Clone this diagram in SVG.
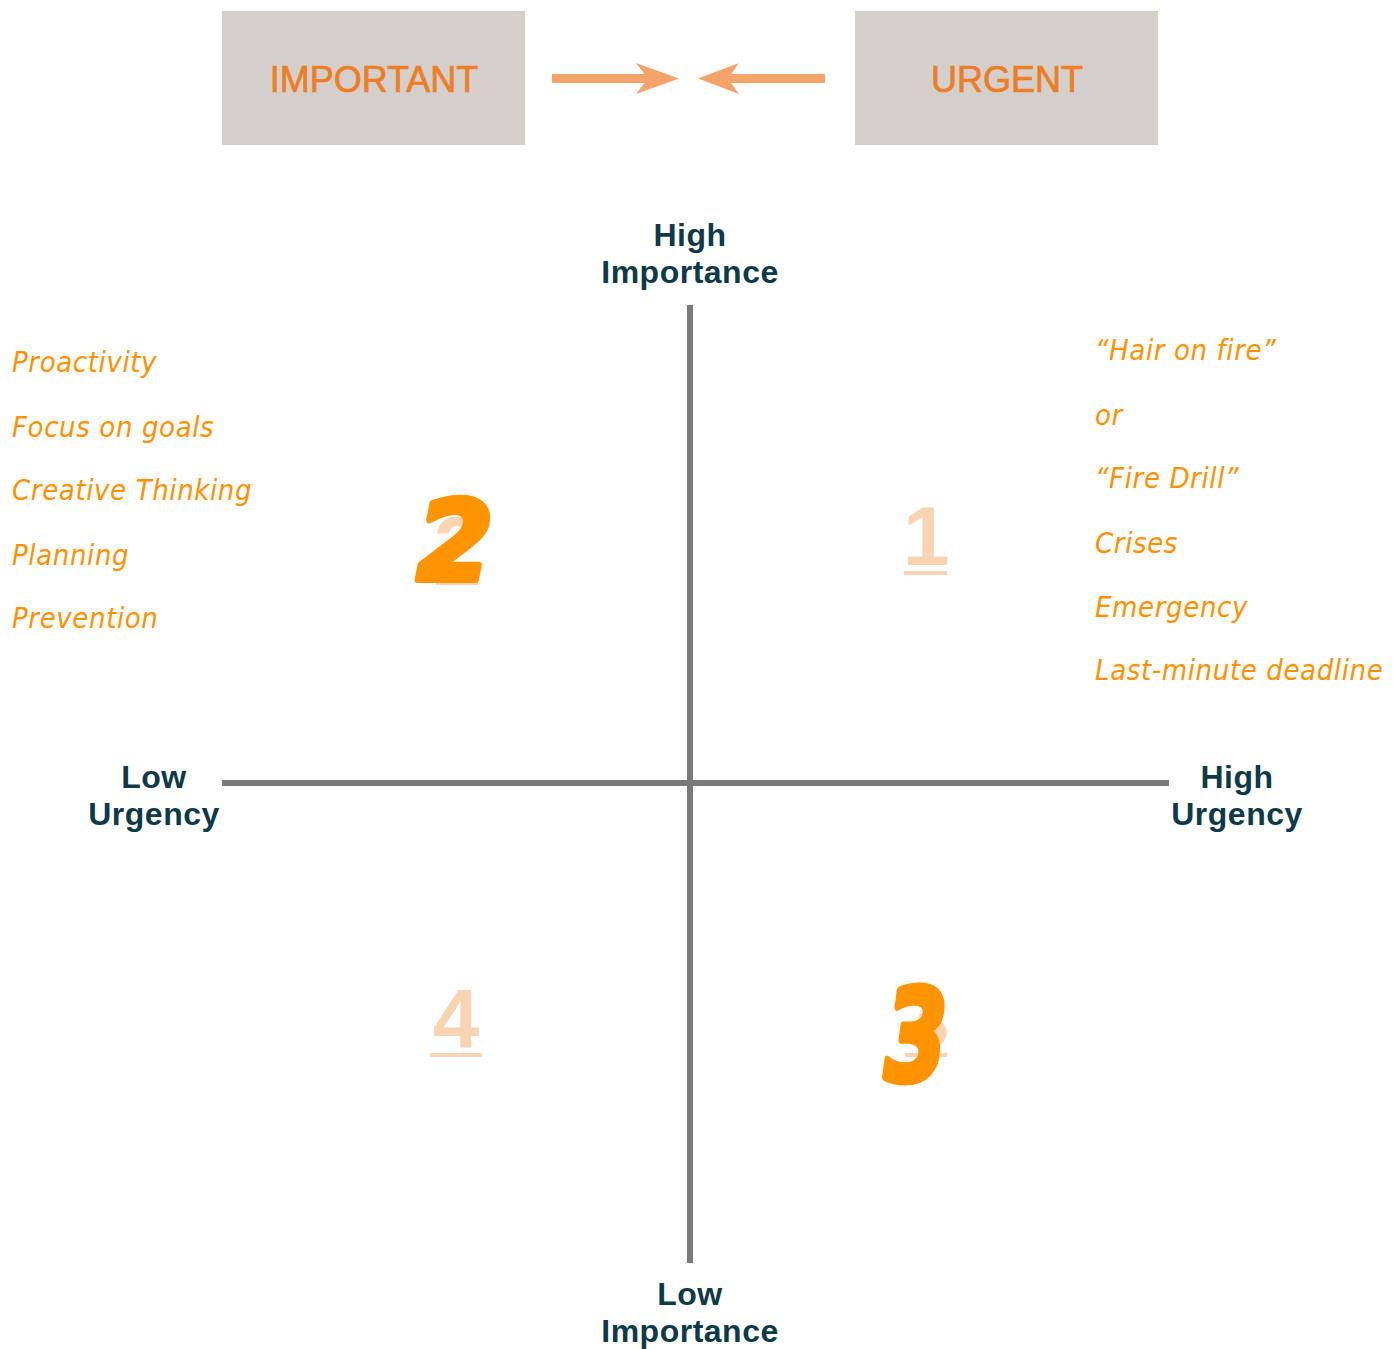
<svg xmlns="http://www.w3.org/2000/svg" width="1393" height="1349" viewBox="0 0 1393 1349">
<style>
.box{fill:#d4cfcb}
.boxt{font-family:"Liberation Sans",Arial,sans-serif;font-size:36px;fill:#ee7d24;stroke:#ee7d24;stroke-width:0.7;text-anchor:middle}
.arr{fill:#f4a46a}
.axis{stroke:#7b797c;stroke-width:6;fill:none}
.lab{font-family:"Liberation Sans",Arial,sans-serif;font-weight:bold;font-size:32px;fill:#0e3a48;text-anchor:middle;letter-spacing:0.5px}
.num{font-family:"Liberation Sans",Arial,sans-serif;font-weight:bold;font-size:84px;fill:#f9d4b2;text-anchor:middle}
.ul{stroke:#f9d4b2;stroke-width:4}
.brush{font-family:"DejaVu Sans",sans-serif;font-weight:bold;font-style:oblique;font-size:110px;fill:#ff9400;stroke:#ff9400;stroke-width:6;stroke-linejoin:round;text-anchor:middle}
.hw{font-family:"DejaVu Sans",sans-serif;font-stretch:condensed;font-style:oblique;font-size:29px;fill:#ff9000;letter-spacing:0.6px}
</style>
<g id="important">
<rect class="box" x="222" y="11" width="303" height="134"/>
<text class="boxt" x="374" y="92">IMPORTANT</text>
</g>
<g id="urgent">
<rect class="box" x="855" y="11" width="303" height="134"/>
<text class="boxt" x="1007" y="92">URGENT</text>
</g>
<g id="connectors">
<rect class="arr" x="552" y="74" width="98" height="9"/>
<polygon class="arr" points="636,63 679,78.5 636,94 648,78.5"/>
<rect class="arr" x="728" y="74" width="97" height="9"/>
<polygon class="arr" points="739,63 698,78.5 739,94 728,78.5"/>
</g>
<g id="axes">
<line class="axis" x1="690" y1="305" x2="690" y2="1263"/>
<line class="axis" x1="222" y1="783" x2="1169" y2="783"/>
</g>
<g id="label-high-importance">
<text class="lab" x="690" y="246">High</text>
<text class="lab" x="690" y="283">Importance</text>
</g>
<g id="label-low-importance">
<text class="lab" x="690" y="1305">Low</text>
<text class="lab" x="690" y="1342">Importance</text>
</g>
<g id="label-low-urgency">
<text class="lab" x="154" y="788">Low</text>
<text class="lab" x="154" y="825">Urgency</text>
</g>
<g id="label-high-urgency">
<text class="lab" x="1237" y="788">High</text>
<text class="lab" x="1237" y="825">Urgency</text>
</g>
<g id="q1">
<text class="num" x="926" y="565">1</text>
<line class="ul" x1="904" y1="573" x2="947" y2="573"/>
</g>
<g id="q2">
<text class="num" x="457" y="575">2</text>
<line class="ul" x1="436" y1="583" x2="478" y2="583"/>
<text class="brush" x="455" y="580">2</text>
</g>
<g id="q3">
<text class="num" x="926" y="1048">3</text>
<line class="ul" x1="905" y1="1055" x2="947" y2="1055"/>
<text class="brush" transform="translate(916 1080) scale(0.82 1.15)" x="0" y="0">3</text>
</g>
<g id="q4">
<text class="num" x="456" y="1048">4</text>
<line class="ul" x1="430" y1="1055" x2="482" y2="1055"/>
</g>
<g id="notes-left">
<text class="hw" x="12" y="372">Proactivity</text>
<text class="hw" x="12" y="437">Focus on goals</text>
<text class="hw" x="12" y="500">Creative Thinking</text>
<text class="hw" x="12" y="565">Planning</text>
<text class="hw" x="12" y="628">Prevention</text>
</g>
<g id="notes-right">
<text class="hw" x="1095" y="360">“Hair on fire”</text>
<text class="hw" x="1095" y="425">or</text>
<text class="hw" x="1095" y="488">“Fire Drill”</text>
<text class="hw" x="1095" y="553">Crises</text>
<text class="hw" x="1095" y="617">Emergency</text>
<text class="hw" x="1095" y="680">Last-minute deadline</text>
</g>
</svg>
